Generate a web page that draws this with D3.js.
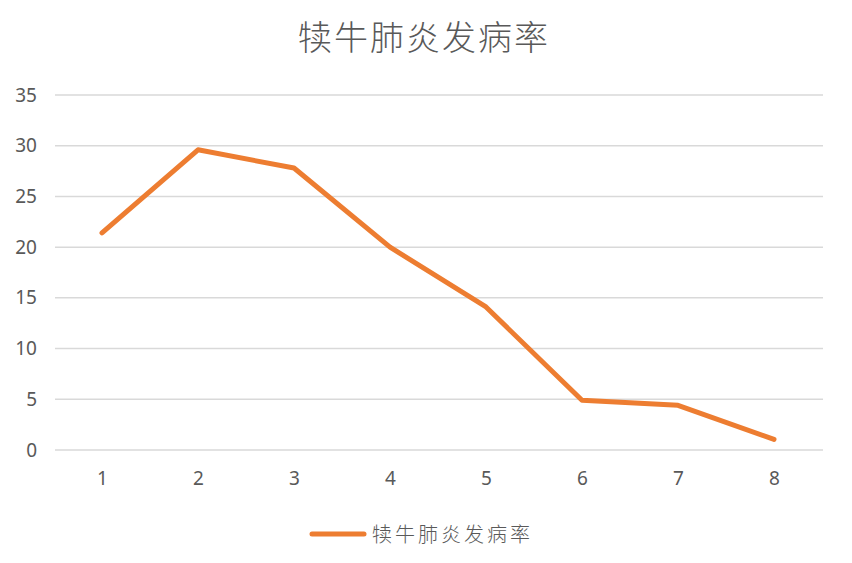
<!DOCTYPE html>
<html>
<head>
<meta charset="utf-8">
<script src="https://cdn.jsdelivr.net/npm/d3@7"></script>
<style>
  body { margin: 0; background: #fff; }
  text { font-family: "Noto Sans", "Noto Sans CJK SC", sans-serif; }
</style>
</head>
<body>
<svg id="chart"></svg>
<script>
// Chart data
const title = "犊牛肺炎发病率";
const categories = [1, 2, 3, 4, 5, 6, 7, 8];
const rates = [21.4, 29.6, 27.8, 20.0, 14.1, 4.9, 4.4, 1.05];
const yTicks = [0, 5, 10, 15, 20, 25, 30, 35];

const width = 852, height = 563;
const margin = { top: 95, right: 30, bottom: 113, left: 55 };

const svg = d3.select("#chart")
  .attr("width", width)
  .attr("height", height);

const x = d3.scalePoint()
  .domain(categories)
  .range([102, 774]);

const y = d3.scaleLinear()
  .domain([0, 35])
  .range([height - margin.bottom, margin.top]);

// Gridlines
svg.append("g")
  .selectAll("line")
  .data(yTicks)
  .join("line")
  .attr("x1", margin.left)
  .attr("x2", width - margin.right + 1)
  .attr("y1", d => y(d))
  .attr("y2", d => y(d))
  .attr("stroke", "#d9d9d9")
  .attr("stroke-width", 1.5);

// Y axis labels
const yAxis = svg.append("g")
  .attr("transform", `translate(${margin.left - 18},0)`)
  .call(d3.axisLeft(y).tickValues(yTicks).tickSize(0).tickPadding(0));
yAxis.select(".domain").remove();
yAxis.selectAll("text")
  .style("font-size", "19px")
  .style("fill", "#595959")
  .style("font-family", "'Noto Sans', sans-serif");

// X axis labels
const xAxis = svg.append("g")
  .attr("transform", `translate(0,${y(0) + 21})`)
  .call(d3.axisBottom(x).tickSize(0).tickPadding(0));
xAxis.select(".domain").remove();
xAxis.selectAll("text")
  .style("font-size", "19px")
  .style("fill", "#595959")
  .style("font-family", "'Noto Sans', sans-serif");

// Line
const line = d3.line()
  .x((d, i) => x(categories[i]))
  .y(d => y(d));

svg.append("path")
  .datum(rates)
  .attr("d", line)
  .attr("fill", "none")
  .attr("stroke", "#ED7D31")
  .attr("stroke-width", 5)
  .attr("stroke-linejoin", "round")
  .attr("stroke-linecap", "round");

// Title
svg.append("text")
  .attr("x", 424)
  .attr("y", 50)
  .attr("text-anchor", "middle")
  .style("font-family", "'Noto Sans CJK SC', sans-serif")
  .style("font-size", "34px")
  .style("font-weight", "300")
  .style("letter-spacing", "2px")
  .style("fill", "#595959")
  .text(title);

// Legend
svg.append("line")
  .attr("x1", 312)
  .attr("x2", 364)
  .attr("y1", 534)
  .attr("y2", 534)
  .attr("stroke", "#ED7D31")
  .attr("stroke-width", 5)
  .attr("stroke-linecap", "round");

svg.append("text")
  .attr("x", 372)
  .attr("y", 542)
  .style("font-family", "'Noto Sans CJK SC', sans-serif")
  .style("font-size", "20px")
  .style("font-weight", "300")
  .style("letter-spacing", "3px")
  .style("fill", "#595959")
  .text(title);
</script>
</body>
</html>
